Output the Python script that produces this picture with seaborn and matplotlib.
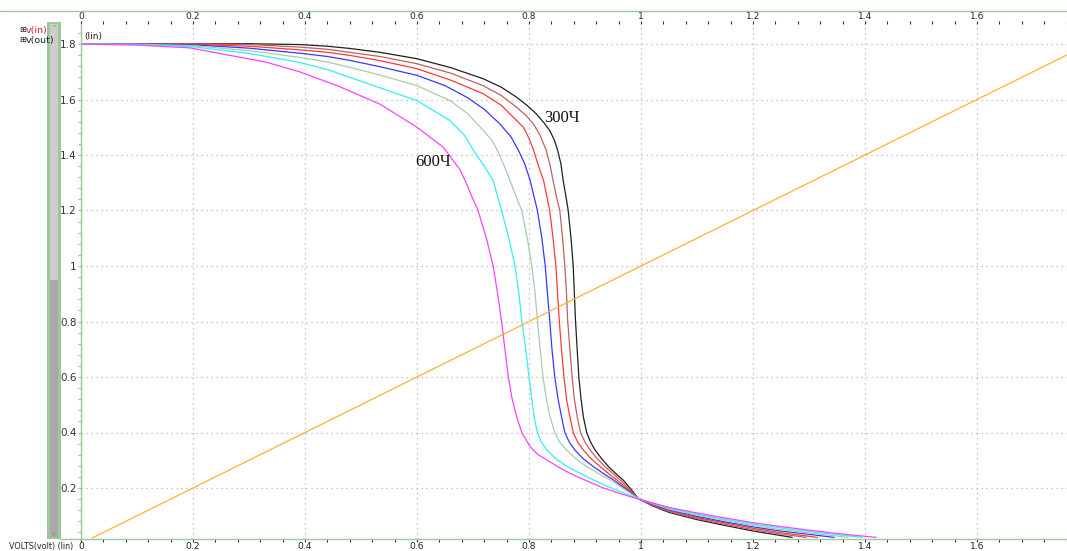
import matplotlib
matplotlib.use('Agg')
import matplotlib.pyplot as plt
from matplotlib.patches import Rectangle
from matplotlib.ticker import MultipleLocator, FuncFormatter
import pandas as pd
import seaborn as sns

# v(out) transfer curves, one per device width
widths = ['300u', '350u', '400u', '450u', '500u', '550u', '600u']
colors = ['#202020', '#c06060', '#ff3838', '#3838ff', '#a8cca8', '#30f0f0', '#ff40ff']

x_300 = [0.0, 0.1, 0.2, 0.3, 0.39, 0.44, 0.48, 0.534, 0.6, 0.66, 0.718, 0.75, 0.778, 0.797, 0.813,
         0.826, 0.837, 0.845, 0.851, 0.857, 0.861, 0.866, 0.870, 0.875, 0.879, 0.881, 0.883, 0.886,
         0.889, 0.893, 0.897, 0.903, 0.910, 0.918, 0.930, 0.942, 0.955, 0.968, 0.982, 0.995, 1.02,
         1.05, 1.1, 1.15, 1.2, 1.27]
y_300 = [1.8, 1.8, 1.801, 1.801, 1.798, 1.792, 1.784, 1.770, 1.747, 1.715, 1.675, 1.645, 1.608, 1.578,
         1.548, 1.518, 1.488, 1.455, 1.418, 1.368, 1.308, 1.25, 1.2, 1.1, 1.0, 0.9, 0.805, 0.7,
         0.6, 0.52, 0.457, 0.4, 0.365, 0.337, 0.305, 0.277, 0.252, 0.229, 0.196, 0.162, 0.136,
         0.112, 0.086, 0.065, 0.045, 0.022]

x_350 = [0.0, 0.1, 0.2, 0.3, 0.39, 0.44, 0.48, 0.534, 0.6, 0.66, 0.718, 0.75, 0.778, 0.795, 0.808,
         0.82, 0.831, 0.838, 0.843, 0.849, 0.855, 0.860, 0.864, 0.867, 0.869, 0.873, 0.877, 0.881,
         0.886, 0.892, 0.900, 0.909, 0.922, 0.936, 0.95, 0.963, 0.979, 0.995, 1.02, 1.05, 1.1,
         1.15, 1.2, 1.25, 1.295]
y_350 = [1.8, 1.8, 1.801, 1.798, 1.789, 1.781, 1.770, 1.755, 1.729, 1.695, 1.65, 1.615, 1.572, 1.542,
         1.512, 1.47, 1.416, 1.36, 1.308, 1.25, 1.2, 1.1, 1.0, 0.9, 0.805, 0.7, 0.6, 0.52,
         0.457, 0.4, 0.365, 0.337, 0.305, 0.277, 0.252, 0.229, 0.196, 0.162, 0.138, 0.115, 0.090,
         0.069, 0.050, 0.034, 0.022]

x_400 = [0.0, 0.1, 0.2, 0.3, 0.39, 0.44, 0.48, 0.534, 0.6, 0.66, 0.718, 0.75, 0.778, 0.79, 0.800,
         0.808, 0.817, 0.826, 0.832, 0.837, 0.843, 0.848, 0.851, 0.854, 0.858, 0.8625, 0.867, 0.873,
         0.879, 0.887, 0.897, 0.911, 0.927, 0.942, 0.957, 0.976, 0.995, 1.02, 1.05, 1.1, 1.15,
         1.2, 1.25, 1.3, 1.315]
y_400 = [1.8, 1.8, 1.799, 1.792, 1.779, 1.77, 1.759, 1.740, 1.711, 1.67, 1.621, 1.58, 1.524, 1.5, 1.46,
         1.418, 1.36, 1.308, 1.25, 1.2, 1.1, 1.0, 0.9, 0.805, 0.7, 0.6, 0.52, 0.457,
         0.4, 0.365, 0.337, 0.305, 0.277, 0.252, 0.229, 0.196, 0.162, 0.140, 0.118, 0.094, 0.074,
         0.055, 0.039, 0.026, 0.022]

x_450 = [0.0, 0.1, 0.2, 0.3, 0.39, 0.44, 0.48, 0.534, 0.6, 0.65, 0.689, 0.72, 0.748, 0.768, 0.781,
         0.792, 0.802, 0.809, 0.815, 0.823, 0.829, 0.833, 0.837, 0.841, 0.846, 0.852, 0.858, 0.864,
         0.872, 0.882, 0.897, 0.915, 0.933, 0.951, 0.973, 0.995, 1.02, 1.05, 1.1, 1.15, 1.2,
         1.25, 1.3, 1.345]
y_450 = [1.8, 1.8, 1.797, 1.785, 1.767, 1.755, 1.741, 1.718, 1.687, 1.65, 1.608, 1.565, 1.512, 1.465,
         1.417, 1.37, 1.308, 1.25, 1.2, 1.1, 1.0, 0.9, 0.805, 0.7, 0.6, 0.52, 0.457, 0.4,
         0.365, 0.337, 0.305, 0.277, 0.252, 0.229, 0.196, 0.162, 0.142, 0.121, 0.098, 0.078, 0.060,
         0.045, 0.033, 0.022]

x_500 = [0.0, 0.1, 0.2, 0.3, 0.39, 0.44, 0.48, 0.534, 0.6, 0.659, 0.69, 0.7185, 0.735, 0.745, 0.756,
         0.766, 0.777, 0.787, 0.797, 0.805, 0.811, 0.815, 0.82, 0.825, 0.831, 0.8375, 0.846, 0.855,
         0.867, 0.884, 0.903, 0.924, 0.945, 0.97, 0.995, 1.02, 1.05, 1.1, 1.15, 1.2, 1.25, 1.3,
         1.37]
y_500 = [1.8, 1.799, 1.794, 1.776, 1.752, 1.735, 1.716, 1.688, 1.650, 1.596, 1.55, 1.488, 1.45, 1.41,
         1.36, 1.308, 1.25, 1.2, 1.1, 1.0, 0.9, 0.805, 0.7, 0.6, 0.52, 0.457, 0.4, 0.365,
         0.337, 0.305, 0.277, 0.252, 0.229, 0.196, 0.162, 0.144, 0.124, 0.102, 0.083, 0.065, 0.050,
         0.038, 0.022]

x_550 = [0.0, 0.1, 0.2, 0.3, 0.39, 0.44, 0.48, 0.534, 0.6, 0.659, 0.685, 0.703, 0.72, 0.736, 0.744,
         0.751, 0.764, 0.775, 0.782, 0.787, 0.794, 0.8, 0.805, 0.809, 0.815, 0.822, 0.832, 0.848,
         0.868, 0.892, 0.915, 0.94, 0.963, 0.995, 1.02, 1.05, 1.1, 1.15, 1.2, 1.25, 1.3, 1.395]
y_550 = [1.8, 1.798, 1.79, 1.766, 1.734, 1.708, 1.680, 1.642, 1.596, 1.524, 1.47, 1.41, 1.36, 1.308,
         1.25, 1.2, 1.1, 1.0, 0.9, 0.805, 0.7, 0.6, 0.52, 0.457, 0.4, 0.365, 0.337, 0.305,
         0.277, 0.252, 0.229, 0.206, 0.187, 0.162, 0.146, 0.127, 0.106, 0.087, 0.070, 0.056, 0.043,
         0.022]

x_600 = [0.0, 0.1, 0.195, 0.266, 0.33, 0.39, 0.46, 0.534, 0.6, 0.647, 0.677, 0.686, 0.698, 0.709,
         0.724, 0.736, 0.744, 0.751, 0.757, 0.763, 0.77, 0.778, 0.787, 0.802, 0.815, 0.832, 0.852,
         0.873, 0.903, 0.933, 0.96, 0.995, 1.05, 1.1, 1.15, 1.2, 1.25, 1.3, 1.36, 1.42]
y_600 = [1.8, 1.796, 1.786, 1.759, 1.735, 1.700, 1.648, 1.583, 1.5, 1.428, 1.346, 1.308, 1.25, 1.2,
         1.1, 1.0, 0.9, 0.8, 0.7, 0.6, 0.52, 0.457, 0.4, 0.349, 0.322, 0.301, 0.276,
         0.253, 0.226, 0.2, 0.182, 0.160, 0.130, 0.110, 0.092, 0.075, 0.061, 0.048, 0.034, 0.022]

# v(in) is the sweep itself
vin_x = [0.02, 1.8]
vin_y = [0.02, 1.8]

curve_x = [x_300, x_350, x_400, x_450, x_500, x_550, x_600]
curve_y = [y_300, y_350, y_400, y_450, y_500, y_550, y_600]

rows = []
for w, xs, ys in zip(widths, curve_x, curve_y):
    for xv, yv in zip(xs, ys):
        rows.append({'width': w, 'vin': xv, 'vout': yv})
df = pd.DataFrame(rows)

sns.set_style('white')
plt.rcParams['font.family'] = ['DejaVu Sans']

W, H = 1067, 551
top_px, bot_px = 24, 539
fig = plt.figure(figsize=(W / 100, H / 100), dpi=100)
ax = fig.add_axes([81 / W, (H - bot_px) / H, (W - 81) / W, (bot_px - top_px) / H])

green = '#9cc89c'
ax.grid(True, which='major', color='#b4b4b4', linestyle=(0, (1, 3)), linewidth=0.9)

for w, c in zip(widths, colors):
    sub = df[df['width'] == w]
    sns.lineplot(data=sub, x='vin', y='vout', sort=False, estimator=None, color=c,
                 linewidth=0.9, ax=ax, legend=False)
sns.lineplot(x=vin_x, y=vin_y, color='#ffb030', linewidth=0.9, ax=ax, legend=False)

ax.set_xlim(0, (W - 81) / 560)
ax.set_ylim((543.5 - bot_px) / 277.5, (543.5 - top_px) / 277.5)
ax.set_xlabel('')
ax.set_ylabel('')

fmt = FuncFormatter(lambda v, p: f'{v:g}')
ax.xaxis.set_major_locator(MultipleLocator(0.2))
ax.xaxis.set_minor_locator(MultipleLocator(0.04))
ax.yaxis.set_major_locator(MultipleLocator(0.2))
ax.yaxis.set_minor_locator(MultipleLocator(0.04))
ax.xaxis.set_major_formatter(fmt)
ax.yaxis.set_major_formatter(fmt)
ax.set_yticks([0.2 * k for k in range(1, 10)])

for s in ['top', 'right']:
    ax.spines[s].set_visible(False)
for s in ['left', 'bottom']:
    ax.spines[s].set_color(green)
    ax.spines[s].set_linewidth(1.0)

ax.tick_params(axis='x', which='both', top=True, bottom=True, labeltop=True, labelbottom=True,
               direction='out', color='#303030', labelsize=6.6, labelcolor='#222222',
               length=2, width=0.8, pad=0.2)
ax.tick_params(axis='y', which='both', left=True, direction='out', color=green,
               labelsize=7.5, labelcolor='#333333', pad=1, length=2, width=0.9)

ax.text(0.003, 0.985, '(lin)', transform=ax.transAxes, fontsize=6.5, color='#222222',
        ha='left', va='top')

serif = ['Liberation Serif', 'DejaVu Serif']
ax.text(0.828, 1.533, '300Ч', fontsize=12, family=serif, color='#111111', ha='left', va='center')
ax.text(0.596, 1.375, '600Ч', fontsize=12, family=serif, color='#111111', ha='left', va='center')

# window chrome: separator line, scroll bar, legend names
fig.add_artist(plt.Line2D([0, 1], [1 - 11 / H, 1 - 11 / H], color=green, linewidth=1.0))
fig.add_artist(plt.Line2D([60 / W, 81 / W], [1 - bot_px / H, 1 - bot_px / H], color=green,
                          linewidth=1.0))
fig.patches.append(Rectangle((47 / W, 1 - bot_px / H), 14 / W, (bot_px - 22) / H,
                             transform=fig.transFigure, facecolor=green, edgecolor='none'))
fig.patches.append(Rectangle((50 / W, 1 - (bot_px - 2) / H), 8 / W, (bot_px - 282) / H,
                             transform=fig.transFigure, facecolor='#a9a9a9', edgecolor='none'))
fig.patches.append(Rectangle((50 / W, 1 - 280 / H), 8 / W, 256 / H, transform=fig.transFigure,
                             facecolor='#cdcdcd', edgecolor='none'))
fig.text(54 / W, 1 - 28 / H, '^', fontsize=5, color='#888888', ha='center', va='center')
fig.text(54 / W, 1 - (bot_px - 5) / H, 'v', fontsize=5, color='#888888', ha='center', va='center')

fig.text(19 / W, 1 - 30 / H, '⊞', fontsize=6, color='#222222', ha='left', va='center')
fig.text(26 / W, 1 - 30 / H, 'v(in)', fontsize=6.8, color='#d02020', ha='left', va='center')
fig.text(19 / W, 1 - 40 / H, '⊞', fontsize=6, color='#222222', ha='left', va='center')
fig.text(26 / W, 1 - 40 / H, 'v(out)', fontsize=6.8, color='#222222', ha='left', va='center')
fig.text(9 / W, 1 - 546 / H, 'VOLTS(volt) (lin)', fontsize=5.8, color='#222222', ha='left',
         va='center')

fig.savefig('out.png', dpi=100)
